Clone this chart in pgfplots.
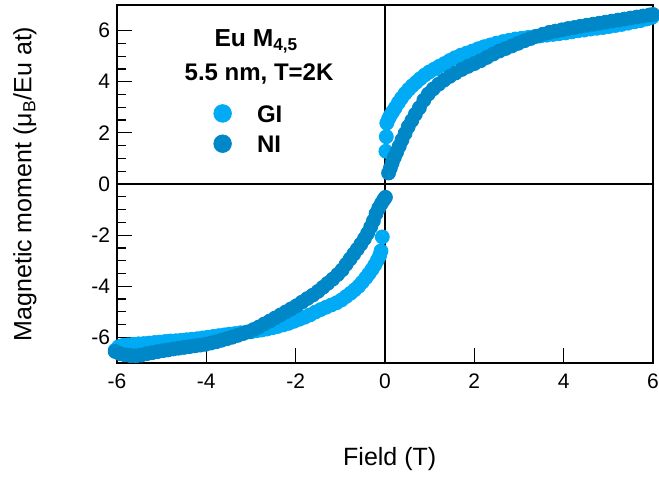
\documentclass[border=0pt]{standalone}
\usepackage{fontspec}
\setmainfont{Liberation Sans}
\usepackage{pgfplots}
\pgfplotsset{compat=1.18}

\definecolor{giC}{RGB}{0,170,245}
\definecolor{niC}{RGB}{0,135,200}

% Eu M4,5 XMCD hysteresis, 5.5 nm, T = 2 K
\pgfplotstableread{
x y
-6.04 -6.50
-5.96 -6.36
-5.86 -6.31
-5.75 -6.29
-5.64 -6.27
-5.52 -6.25
-5.40 -6.24
-5.28 -6.22
-5.16 -6.20
-5.04 -6.18
-4.92 -6.16
-4.80 -6.14
-4.68 -6.13
-4.56 -6.11
-4.44 -6.09
-4.32 -6.07
-4.20 -6.05
-4.08 -6.02
-3.96 -5.99
-3.84 -5.96
-3.72 -5.93
-3.60 -5.90
-3.48 -5.87
-3.36 -5.85
-3.24 -5.82
-3.12 -5.80
-3.00 -5.78
-2.88 -5.74
-2.76 -5.71
-2.64 -5.67
-2.52 -5.62
-2.40 -5.57
-2.28 -5.51
-2.16 -5.45
-2.04 -5.37
-1.92 -5.29
-1.80 -5.21
-1.68 -5.12
-1.56 -5.01
-1.44 -4.91
-1.32 -4.82
-1.20 -4.73
-1.08 -4.64
-0.97 -4.53
-0.87 -4.40
-0.77 -4.27
-0.68 -4.14
-0.59 -4.00
-0.51 -3.84
-0.43 -3.67
-0.36 -3.51
-0.29 -3.34
-0.23 -3.17
-0.17 -2.98
-0.12 -2.80
-0.09 -2.62
-0.06 -2.07
0.02 1.28
0.03 1.85
0.04 2.38
0.08 2.55
0.12 2.68
0.17 2.82
0.23 2.98
0.30 3.18
0.37 3.36
0.45 3.54
0.53 3.70
0.61 3.84
0.70 3.98
0.79 4.12
0.89 4.26
0.99 4.38
1.10 4.49
1.21 4.60
1.33 4.71
1.45 4.83
1.57 4.94
1.70 5.04
1.83 5.12
1.96 5.20
2.09 5.29
2.22 5.37
2.36 5.44
2.50 5.51
2.64 5.57
2.78 5.62
2.92 5.67
3.06 5.70
3.20 5.73
3.34 5.76
3.48 5.79
3.62 5.82
3.76 5.85
3.90 5.88
4.04 5.91
4.18 5.95
4.32 5.99
4.46 6.02
4.60 6.06
4.74 6.09
4.88 6.12
5.02 6.16
5.16 6.20
5.30 6.24
5.44 6.29
5.58 6.34
5.72 6.39
5.86 6.45
5.98 6.52
}\GI

\pgfplotstableread{
x y
-6.04 -6.55
-5.94 -6.63
-5.82 -6.68
-5.70 -6.71
-5.58 -6.72
-5.46 -6.69
-5.34 -6.64
-5.22 -6.60
-5.10 -6.56
-4.98 -6.52
-4.86 -6.49
-4.74 -6.45
-4.62 -6.42
-4.50 -6.39
-4.38 -6.36
-4.26 -6.33
-4.14 -6.30
-4.02 -6.27
-3.90 -6.22
-3.78 -6.17
-3.66 -6.11
-3.54 -6.05
-3.42 -5.99
-3.30 -5.92
-3.18 -5.85
-3.06 -5.78
-2.94 -5.69
-2.82 -5.59
-2.70 -5.47
-2.58 -5.36
-2.46 -5.24
-2.34 -5.12
-2.22 -5.00
-2.10 -4.88
-1.98 -4.76
-1.86 -4.62
-1.74 -4.48
-1.62 -4.35
-1.50 -4.20
-1.39 -4.04
-1.28 -3.88
-1.17 -3.72
-1.06 -3.54
-0.96 -3.36
-0.87 -3.14
-0.78 -2.93
-0.70 -2.74
-0.62 -2.55
-0.54 -2.35
-0.46 -2.14
-0.39 -1.93
-0.32 -1.68
-0.26 -1.44
-0.20 -1.16
-0.14 -0.94
-0.08 -0.76
-0.03 -0.62
0.01 -0.52
0.08 0.43
0.12 0.62
0.16 0.82
0.21 1.04
0.26 1.24
0.32 1.48
0.38 1.72
0.45 1.98
0.52 2.24
0.60 2.48
0.68 2.73
0.77 2.98
0.87 3.28
0.97 3.52
1.08 3.72
1.20 3.90
1.32 4.06
1.45 4.21
1.58 4.34
1.72 4.48
1.86 4.60
2.00 4.71
2.14 4.82
2.28 4.95
2.42 5.08
2.56 5.20
2.70 5.30
2.84 5.40
2.98 5.50
3.12 5.60
3.26 5.69
3.40 5.78
3.54 5.86
3.68 5.93
3.82 5.98
3.96 6.03
4.10 6.08
4.24 6.12
4.38 6.17
4.52 6.21
4.66 6.25
4.80 6.29
4.94 6.33
5.08 6.37
5.22 6.41
5.36 6.45
5.50 6.49
5.64 6.53
5.78 6.57
5.92 6.61
6.00 6.63
}\NI

\begin{document}
\begin{tikzpicture}
% page = axis box plus the margins of the reference
\useasboundingbox (-58.5pt,-57pt) rectangle (271pt,181.5pt);
\begin{axis}[
  scale only axis, width=268pt, height=179pt,
  xmin=-6, xmax=6, ymin=-7, ymax=7,
  clip=false,
  axis line style={line width=0.75pt},
  xtick={-6,-4,...,6}, ytick={-6,-4,...,6},
  minor y tick num=3,
  tick align=inside, xtick pos=bottom, ytick pos=left,
  major tick length=7.5pt, minor tick length=4.5pt,
  every tick/.style={black, line width=0.6pt},
  /pgf/number format/assume math mode=true,
  tick label style={font=\fontsize{10.5}{12}\selectfont},
  xticklabel style={yshift=-2pt},
  label style={font=\fontsize{12.5}{15}\selectfont},
  xlabel={Field (T)},
  ylabel={Magnetic moment (μ\textsubscript{B}/Eu at)},
  xlabel style={at={(axis description cs:0.5088,-0.268)}, anchor=center},
  ylabel style={at={(axis description cs:-0.1716,0.5)}, anchor=center},
  legend cell align=left,
  legend image code/.code={\path (-4.4pt,0pt) (4.4pt,0pt); \draw[#1, mark size=4.4pt] plot coordinates {(0pt,1.2pt)};},
  legend style={draw=none, fill=none, inner sep=0pt, row sep=4.6pt, column sep=12.6pt,
    nodes={inner sep=0pt}, font=\bfseries\fontsize{12}{14}\selectfont,
    at={(axis cs:-3.85,3.12)}, anchor=north west},
]
\addplot[only marks, mark=*, mark size=3.5pt, color=giC, mark options={draw=giC, fill=giC}] table {\GI};
\addlegendentry{GI}
\addplot[only marks, mark=*, mark size=3.5pt, color=niC, mark options={draw=niC, fill=niC}] table {\NI};
\addlegendentry{NI}
\draw[black, line width=0.6pt] (axis cs:0,-7) -- (axis cs:0,7);
\draw[black, line width=0.6pt] (axis cs:-6,0) -- (axis cs:6,0);
\node[font=\bfseries\fontsize{12.3}{14}\selectfont, anchor=base] at (axis cs:-2.88,5.37) {Eu M\textsubscript{4,5}};
\node[font=\bfseries\fontsize{12}{14}\selectfont, anchor=base] at (axis cs:-2.82,4.04) {5.5 nm, T=2K};
\end{axis}
\end{tikzpicture}
\end{document}
